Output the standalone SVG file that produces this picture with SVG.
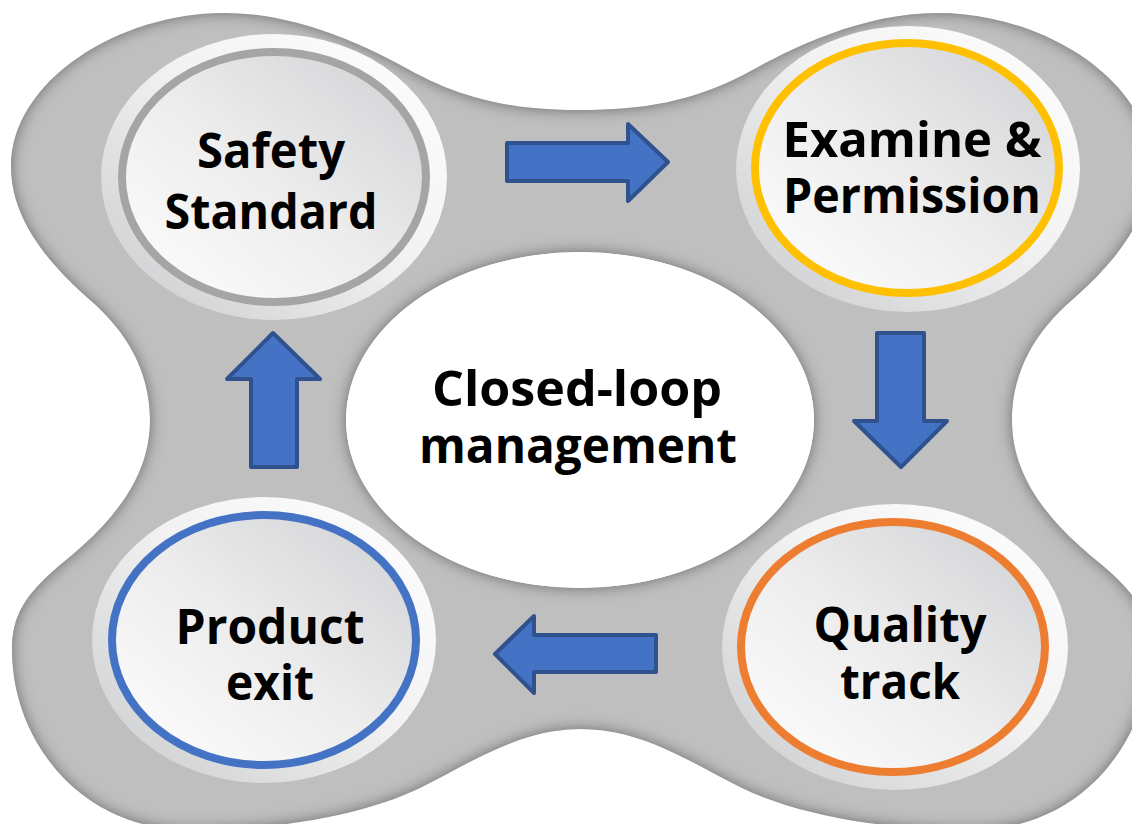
<svg xmlns="http://www.w3.org/2000/svg" width="1132" height="824" viewBox="0 0 1132 824">
  <style>
    .lbl { font-family: "Open Sans", "Noto Sans", "Liberation Sans", sans-serif; font-weight: 700; font-size: 48px; fill: #000000; text-anchor: middle; }
    .ring { fill: url(#ringG); }
    .face { fill: url(#faceG); stroke-width: 8; }
    .arrow { fill: #4472C4; stroke: #2F528F; stroke-width: 4; stroke-linejoin: round; }
  </style>
  <defs>
    <linearGradient id="ringG" x1="0" y1="1" x2="1" y2="0">
      <stop offset="0" stop-color="#CACBCD"/>
      <stop offset="0.55" stop-color="#F2F2F2"/>
      <stop offset="1" stop-color="#FFFFFF"/>
    </linearGradient>
    <linearGradient id="faceG" x1="0" y1="1" x2="1" y2="0">
      <stop offset="0" stop-color="#FFFFFF"/>
      <stop offset="0.5" stop-color="#ECECED"/>
      <stop offset="1" stop-color="#CFD0D2"/>
    </linearGradient>
    <filter id="innerShadow" filterUnits="userSpaceOnUse" x="-100" y="-100" width="1400" height="1100">
      <feFlood flood-color="#4a4a4a" result="c"/>
      <feComposite in="c" in2="SourceAlpha" operator="out" result="inv"/>
      <feGaussianBlur in="inv" stdDeviation="8" result="blur"/>
      <feComposite in="blur" in2="SourceAlpha" operator="in" result="shadow"/>
      <feMerge>
        <feMergeNode in="SourceGraphic"/>
        <feMergeNode in="shadow"/>
      </feMerge>
    </filter>
  </defs>

  <rect x="0" y="0" width="1132" height="824" fill="#FFFFFF"/>

  <!-- gray four-lobed background with central hole -->
  <path id="blob" fill="#BFBFBF" fill-rule="evenodd" filter="url(#innerShadow)"
    d="M 581,110
       C 642,110 692,102 747,73
       C 792,48 862,13 938,13
       C 1042,13 1151,80 1151,167
       C 1151,220 1112,265 1072,300
       C 1037,330 1012,370 1012,420
       C 1012,480 1052,525 1102,565
       C 1137,595 1150,615 1150,650
       C 1150,740 1082,830 972,830
       C 872,830 792,812 742,788
       C 690,762 642,729 581,729
       C 520,729 472,762 420,788
       C 370,812 290,830 190,830
       C 80,830 12,740 12,650
       C 12,615 25,595 60,565
       C 110,525 150,480 150,420
       C 150,370 125,330 90,300
       C 50,265 11,220 11,167
       C 11,80 120,13 224,13
       C 300,13 370,48 415,73
       C 470,102 520,110 581,110 Z
       M 346,420 A 234,168 0 1,0 814,420 A 234,168 0 1,0 346,420 Z"/>

  <g id="node-center">
    <ellipse cx="580" cy="420" rx="234" ry="168" fill="#FFFFFF"/>
    <text class="lbl" x="577" y="406" font-size="50" textLength="290" lengthAdjust="spacingAndGlyphs">Closed-loop</text>
    <text class="lbl" x="578" y="463" font-size="50" textLength="318" lengthAdjust="spacingAndGlyphs">management</text>
  </g>

  <g id="node-safety">
    <ellipse class="ring" cx="274" cy="177" rx="173" ry="143"/>
    <ellipse class="face" cx="274" cy="177" rx="152" ry="125" stroke="#A5A5A5"/>
    <text class="lbl" x="271" y="168" textLength="148" lengthAdjust="spacingAndGlyphs">Safety</text>
    <text class="lbl" x="271" y="229" textLength="213" lengthAdjust="spacingAndGlyphs">Standard</text>
  </g>

  <g id="node-examine">
    <ellipse class="ring" cx="908" cy="169" rx="172" ry="143"/>
    <ellipse class="face" cx="907" cy="168" rx="152" ry="125" stroke="#FFC000"/>
    <text class="lbl" x="912" y="157" textLength="259" lengthAdjust="spacingAndGlyphs">Examine &amp;</text>
    <text class="lbl" x="912" y="213" textLength="258" lengthAdjust="spacingAndGlyphs">Permission</text>
  </g>

  <g id="node-quality">
    <ellipse class="ring" cx="895" cy="647" rx="173" ry="143"/>
    <ellipse class="face" cx="893" cy="647" rx="152" ry="125" stroke="#ED7D31"/>
    <text class="lbl" x="900" y="642" textLength="173" lengthAdjust="spacingAndGlyphs">Quality</text>
    <text class="lbl" x="900" y="699" textLength="120" lengthAdjust="spacingAndGlyphs">track</text>
  </g>

  <g id="node-product">
    <ellipse class="ring" cx="264" cy="640" rx="172" ry="143"/>
    <ellipse class="face" cx="264" cy="640" rx="152" ry="125" stroke="#4472C4"/>
    <text class="lbl" x="270" y="644" textLength="189" lengthAdjust="spacingAndGlyphs">Product</text>
    <text class="lbl" x="270" y="700" textLength="88" lengthAdjust="spacingAndGlyphs">exit</text>
  </g>

  <g id="connectors">
    <polygon class="arrow" points="507,143 628,143 628,124 668,162 628,201 628,181 507,181"/>
    <polygon class="arrow" points="877,333 924,333 924,421 947,421 901,467 854,421 877,421"/>
    <polygon class="arrow" points="656,635 534,635 534,616 495,654 534,693 534,672 656,672"/>
    <polygon class="arrow" points="251,467 251,379 227,379 273,333 320,379 297,379 297,467"/>
  </g>
</svg>
